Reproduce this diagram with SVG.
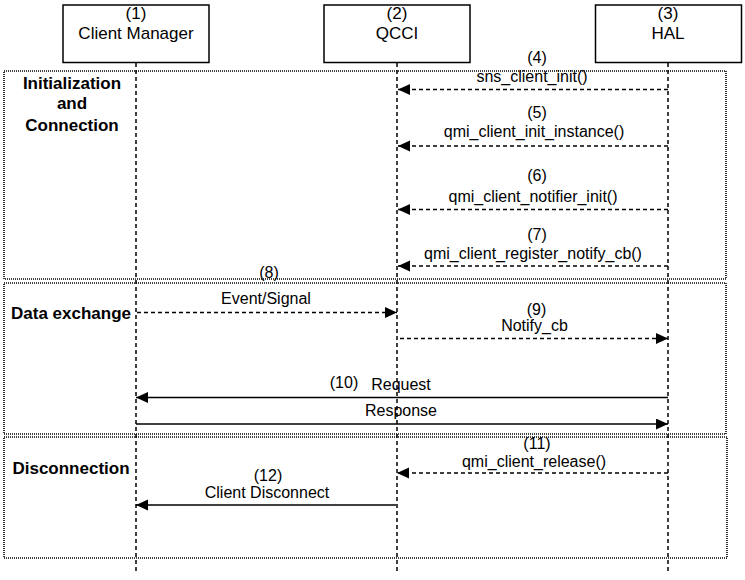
<svg xmlns="http://www.w3.org/2000/svg" width="745" height="580" viewBox="0 0 745 580">
<style>
  .box { fill: #ffffff; stroke: #000000; stroke-width: 1.5; }
  .group { fill: none; stroke: #000000; stroke-width: 1.6; stroke-dasharray: 1 1; }
  .life { fill: none; stroke: #000000; stroke-width: 1.5; stroke-dasharray: 4 3; }
  .dash { fill: none; stroke: #000000; stroke-width: 1.5; stroke-dasharray: 4 3; marker-end: url(#arr); }
  .solid { fill: none; stroke: #000000; stroke-width: 1.5; marker-end: url(#arr); }
  .lbl { font-family: "Liberation Sans", Arial, sans-serif; font-size: 17px; fill: #000000; text-anchor: middle; }
  .grp { font-family: "Liberation Sans", Arial, sans-serif; font-size: 17px; font-weight: bold; fill: #000000; text-anchor: middle; }
  .msg { font-family: "Liberation Sans", Arial, sans-serif; font-size: 16px; fill: #000000; text-anchor: middle; }
</style>
<defs>
  <marker id="arr" markerUnits="userSpaceOnUse" markerWidth="13" markerHeight="12" refX="12" refY="5.5" orient="auto">
    <path d="M0,0 L12,5.5 L0,11 z" fill="#000000"/>
  </marker>
</defs>
<rect width="745" height="580" fill="#ffffff"/>

<g id="groups">
  <g id="group-init">
    <rect class="group" x="4" y="71" width="722" height="208"/>
    <text class="grp" x="72" y="89">Initialization</text>
    <text class="grp" x="72" y="109">and</text>
    <text class="grp" x="72" y="131">Connection</text>
  </g>
  <g id="group-data">
    <rect class="group" x="4" y="283" width="722" height="151"/>
    <text class="grp" x="71" y="319">Data exchange</text>
  </g>
  <g id="group-disc">
    <rect class="group" x="4" y="437" width="723" height="121"/>
    <text class="grp" x="71" y="474">Disconnection</text>
  </g>
</g>

<g id="lifelines">
  <line class="life" x1="136" y1="63" x2="136" y2="572"/>
  <line class="life" x1="397" y1="63" x2="397" y2="572"/>
  <line class="life" x1="668" y1="63" x2="668" y2="572"/>
</g>

<g id="node-client-manager">
  <rect class="box" x="63" y="5" width="146" height="57.5"/>
  <text class="lbl" x="136" y="19">(1)</text>
  <text class="lbl" x="136" y="39">Client Manager</text>
</g>
<g id="node-qcci">
  <rect class="box" x="324" y="5" width="146" height="57.5"/>
  <text class="lbl" x="397" y="19">(2)</text>
  <text class="lbl" x="397" y="39">QCCI</text>
</g>
<g id="node-hal">
  <rect class="box" x="595.5" y="5" width="146" height="57.5"/>
  <text class="lbl" x="668" y="19">(3)</text>
  <text class="lbl" x="668" y="39">HAL</text>
</g>

<g id="connectors">
  <line class="dash" x1="668" y1="89.5" x2="398" y2="89.5"/>
  <line class="dash" x1="668" y1="146" x2="398" y2="146"/>
  <line class="dash" x1="668" y1="209.5" x2="398" y2="209.5"/>
  <line class="dash" x1="668" y1="266" x2="398" y2="266"/>
  <line class="dash" x1="137" y1="312.5" x2="397" y2="312.5"/>
  <line class="dash" x1="400" y1="338.5" x2="668" y2="338.5"/>
  <line class="solid" x1="668" y1="397.5" x2="136" y2="397.5"/>
  <line class="solid" x1="136" y1="424" x2="668" y2="424"/>
  <line class="dash" x1="668" y1="473" x2="397" y2="473"/>
  <line class="solid" x1="396" y1="505" x2="136" y2="505"/>
</g>

<g id="labels">
  <text class="msg" x="537" y="63">(4)</text>
  <text class="msg" x="532" y="81.5">sns_client_init()</text>
  <text class="msg" x="537" y="118">(5)</text>
  <text class="msg" x="534" y="136.5">qmi_client_init_instance()</text>
  <text class="msg" x="537" y="181">(6)</text>
  <text class="msg" x="533" y="202">qmi_client_notifier_init()</text>
  <text class="msg" x="537" y="240">(7)</text>
  <text class="msg" x="533" y="259">qmi_client_register_notify_cb()</text>
  <text class="msg" x="269" y="277.5">(8)</text>
  <text class="msg" x="266" y="304">Event/Signal</text>
  <text class="msg" x="536.5" y="314.5">(9)</text>
  <text class="msg" x="534.5" y="330.5">Notify_cb</text>
  <text class="msg" x="344" y="387.5">(10)</text>
  <text class="msg" x="401" y="389.5">Request</text>
  <text class="msg" x="401" y="416">Response</text>
  <text class="msg" x="537" y="448.5">(11)</text>
  <text class="msg" x="534" y="467">qmi_client_release()</text>
  <text class="msg" x="268" y="480.5">(12)</text>
  <text class="msg" x="267" y="497.5">Client Disconnect</text>
</g>
</svg>
